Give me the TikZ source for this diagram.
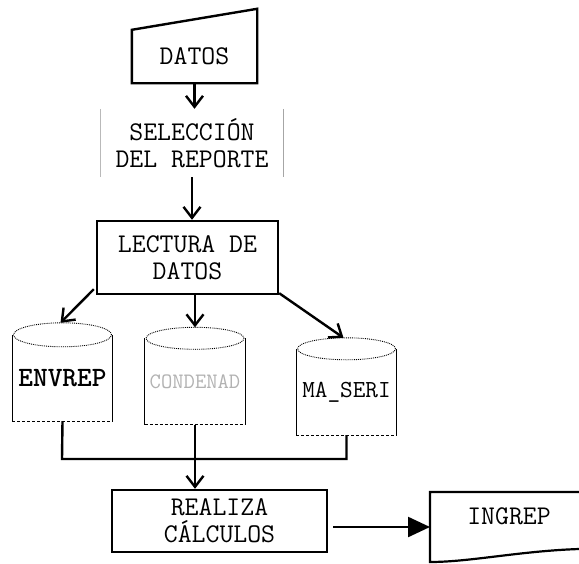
\documentclass[tikz,border=0pt]{standalone}
\usepackage{fontspec}
\usetikzlibrary{arrows.meta}

\begin{document}
\begin{tikzpicture}[
    x=1pt, y=-1pt,
    every node/.style={font=\ttfamily\fontsize{27}{27}\selectfont},
    proceso/.style={rectangle, draw, line width=2.4pt, align=center, inner sep=0pt},
    almacen/.style={rectangle, minimum width=100pt, minimum height=86pt, inner sep=0pt},
    flecha/.style={-{Straight Barb[length=11pt, width=17pt]}, line width=2.4pt},
    lado/.style={line width=1.3pt},
    borde/.style={line width=1pt, densely dashed},
    tapa/.style={line width=0.9pt, densely dotted}
]
    \useasboundingbox (0,0) rectangle (579,563);

    % Entrada manual
    \node[rectangle, minimum width=125pt, minimum height=53pt, inner sep=0pt]
        (datos) at (194.5, 56.5) {DATOS};
    \draw[line width=2.4pt, line join=miter] (datos.south west) -- (datos.north west)
        -- ([yshift=21pt]datos.north east) -- (datos.south east) -- cycle;

    % Seleccion (trazo tenue)
    \node[rectangle, minimum width=182pt, minimum height=68pt, align=center,
          inner sep=0pt] (sel) at (192, 143) {SELECCIÓN\\DEL REPORTE};
    \draw[gray!55, line width=1pt] (sel.north west) -- (sel.south west);
    \draw[gray!70, line width=1.2pt] (sel.north east) -- (sel.south east);

    % Lectura y calculos
    \node[proceso, minimum width=181pt, minimum height=73pt]
        (lectura) at (187.5, 257.5) {LECTURA DE\\DATOS};
    \node[proceso, minimum width=215pt, minimum height=62pt]
        (realiza) at (219.5, 521) {REALIZA\\CÁLCULOS};

    % Archivos
    \node[almacen, font=\ttfamily\fontsize{28}{28}\selectfont\bfseries]
        (envrep) at (62.5, 378) {ENVREP};
    \node[almacen, text=gray!60, font=\ttfamily\fontsize{22}{22}\selectfont]
        (condenad) at (195, 381.5) {CONDENAD};
    \node[almacen, font=\ttfamily\fontsize{24.5}{25}\selectfont]
        (maseri) at (346.5, 392) {MA\_SERI};

    \draw[lado] (envrep.north west) -- (envrep.south west);
    \draw[lado] (envrep.north east) -- (envrep.south east);
    \draw[borde] (envrep.south west) -- (envrep.south east);
    \draw[tapa] (envrep.north) ellipse [x radius=49pt, y radius=12pt];

    \draw[lado] (condenad.north west) -- (condenad.south west);
    \draw[lado] (condenad.north east) -- (condenad.south east);
    \draw[borde] (condenad.south west) -- (condenad.south east);
    \draw[tapa] (condenad.north) ellipse [x radius=49pt, y radius=11pt];

    \draw[lado] (maseri.north west) -- (maseri.south west);
    \draw[lado] (maseri.north east) -- (maseri.south east);
    \draw[borde] (maseri.south west) -- (maseri.south east);
    \draw[tapa] (maseri.north) ellipse [x radius=49pt, y radius=11pt];

    % Documento de salida
    \node (ingrep) at (509, 516) {INGREP};
    \coordinate (ingrep-w) at (430, 527);
    \draw[line width=2.2pt] (579, 492) -- (430, 492) -- (430, 562)
        .. controls (470, 562) and (520, 551) .. (579, 549);

    % Flujo
    \draw[flecha] (datos.south) -- (datos.south |- sel.north);
    \draw[flecha] (sel.south) -- (sel.south |- lectura.north);
    \draw[flecha] ([xshift=-2pt, yshift=6pt]lectura.south west)
        -- ([xshift=-2pt, yshift=12pt]envrep.north);
    \draw[flecha] (lectura.south -| condenad.north)
        -- ([yshift=11pt]condenad.north);
    \draw[flecha] ([yshift=2pt]lectura.south east)
        -- ([xshift=-3pt, yshift=11pt]maseri.north);

    % Union de archivos
    \draw[line width=2.4pt] (envrep.south) -- (62, 459) -- (maseri.south |- 0, 459)
        -- (maseri.south);
    \draw[flecha] (condenad.south) -- (condenad.south |- realiza.north);

    \draw[-{Triangle[length=22pt, width=20pt]}, line width=2.4pt]
        ([xshift=5pt]realiza.east |- ingrep-w) -- (ingrep-w);

\end{tikzpicture}
\end{document}
